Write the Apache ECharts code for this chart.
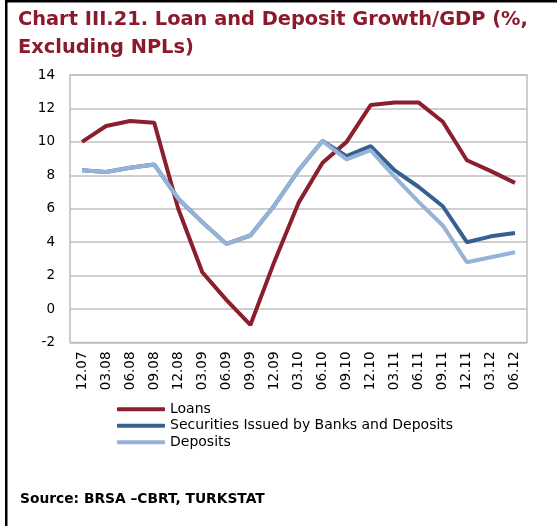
<!DOCTYPE html>
<html>
<head>
<meta charset="utf-8">
<script src="https://cdn.jsdelivr.net/npm/echarts@6/dist/echarts.min.js"></script>
<style>
  html, body { margin: 0; padding: 0; background: #fff; }
  #chart { width: 557px; height: 526px; }
</style>
</head>
<body>
<div id="chart"></div>
<script>
// Quarterly periods (month.year)
const periods = ['12.07','03.08','06.08','09.08','12.08','03.09','06.09','09.09','12.09','03.10',
                 '06.10','09.10','12.10','03.11','06.11','09.11','12.11','03.12','06.12'];

// Growth / GDP, %
const loans      = [10.0, 10.95, 11.25, 11.15, 6.0, 2.2, 0.55, -0.95, 2.85, 6.35,
                    8.75, 10.0, 12.2, 12.35, 12.35, 11.2, 8.9, 8.25, 7.55];
const securities = [8.3, 8.2, 8.45, 8.65, 6.6, 5.2, 3.9, 4.4, 6.2, 8.3,
                    10.05, 9.15, 9.75, 8.3, 7.3, 6.15, 4.0, 4.35, 4.55];
const deposits   = [8.3, 8.2, 8.45, 8.65, 6.6, 5.2, 3.9, 4.4, 6.2, 8.3,
                    10.05, 8.95, 9.5, 7.9, 6.4, 5.0, 2.8, 3.1, 3.4];

const seriesNames = ['Loans', 'Securities Issued by Banks and Deposits', 'Deposits'];
const seriesColors = ['#8C1F2E', '#376092', '#95B3D7'];

const chart = echarts.init(document.getElementById('chart'), null, { renderer: 'canvas' });

const font = 'DejaVu Sans';

chart.setOption({
  animation: false,
  backgroundColor: '#ffffff',
  title: [
    {
      text: 'Chart III.21. Loan and Deposit Growth/GDP (%,\nExcluding NPLs)',
      left: 13, top: 1,
      textStyle: { fontFamily: font, fontWeight: 'bold', fontSize: 19.4,
                   color: '#8B1A2C', lineHeight: 28 }
    },
    {
      text: 'Source: BRSA \u2013CBRT, TURKSTAT',
      left: 15, top: 487,
      textStyle: { fontFamily: font, fontWeight: 'bold', fontSize: 13.8, color: '#000' }
    }
  ],
  legend: {
    orient: 'vertical',
    left: 112, top: 396,
    itemWidth: 48, itemHeight: 4,
    itemGap: 0,
    icon: 'roundRect',
    textStyle: { fontFamily: font, fontSize: 14, color: '#000', lineHeight: 16.5 },
    data: seriesNames
  },
  grid: { left: 70, right: 30, top: 75, bottom: 183.5, containLabel: false,
          show: true, borderColor: '#BFBFBF', borderWidth: 1.5 },
  xAxis: {
    type: 'category',
    data: periods,
    boundaryGap: true,
    axisLine: { show: false },
    axisTick: { show: false },
    axisLabel: { interval: 0, rotate: 90, margin: 9, fontFamily: font, fontSize: 13.5, color: '#000' }
  },
  yAxis: {
    type: 'value',
    min: -2, max: 14, interval: 2,
    axisLine: { show: false },
    axisTick: { show: false },
    axisLabel: { margin: 15, fontFamily: font, fontSize: 13.5, color: '#000' },
    splitLine: { lineStyle: { color: '#BFBFBF', width: 1.5 } }
  },
  series: [
    { name: seriesNames[0], type: 'line', data: loans, symbol: 'none',
      lineStyle: { width: 4, color: seriesColors[0] }, itemStyle: { color: seriesColors[0] } },
    { name: seriesNames[1], type: 'line', data: securities, symbol: 'none',
      lineStyle: { width: 4, color: seriesColors[1] }, itemStyle: { color: seriesColors[1] } },
    { name: seriesNames[2], type: 'line', data: deposits, symbol: 'none',
      lineStyle: { width: 4, color: seriesColors[2] }, itemStyle: { color: seriesColors[2] } }
  ],
  graphic: [
    { type: 'rect', left: 5, top: 0, shape: { width: 2.5, height: 526 }, style: { fill: '#000' } },
    { type: 'rect', left: 5, top: 0, shape: { width: 552, height: 2.5 }, style: { fill: '#000' } }
  ]
});
</script>
</body>
</html>
